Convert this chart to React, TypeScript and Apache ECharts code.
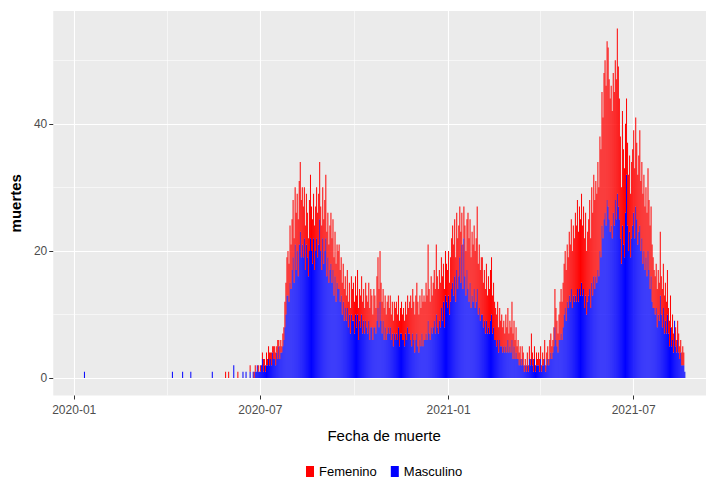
import React, { useEffect, useRef } from "react";
import * as echarts from "echarts";

// Sparse early days (before continuous reporting)
const sparseDates = ["2020-01-11", "2020-04-06", "2020-04-16", "2020-04-24", "2020-05-15", "2020-05-28", "2020-05-31", "2020-06-05", "2020-06-09", "2020-06-14", "2020-06-17", "2020-06-21"];
const sparseMasculino = [1, 1, 1, 1, 1, 0, 0, 2, 0, 1, 1, 1];
const sparseFemenino = [0, 0, 0, 0, 0, 1, 1, 0, 1, 0, 0, 1];

// Daily values from this date on (one week per row)
const startDate = "2020-06-24";
const masculino = [
  1, 0, 1, 1, 2, 1, 1,
  1, 2, 3, 1, 2, 1, 2,
  2, 3, 2, 3, 2, 4, 3,
  3, 2, 4, 3, 5, 3, 4,
  4, 5, 6, 8, 10, 13, 13,
  12, 15, 14, 17, 19, 15, 21,
  17, 20, 16, 21, 23, 19, 21,
  19, 22, 17, 21, 19, 16, 20,
  22, 20, 18, 22, 17, 20, 22,
  19, 21, 25, 20, 17, 22, 18,
  20, 22, 16, 19, 15, 17, 18,
  15, 17, 13, 16, 12, 15, 14,
  14, 12, 13, 10, 12, 9, 11,
  9, 11, 8, 10, 7, 10, 9,
  9, 7, 10, 8, 10, 6, 9,
  8, 10, 7, 9, 7, 9, 8,
  7, 9, 6, 8, 8, 6, 8,
  8, 7, 9, 11, 8, 12, 9,
  7, 9, 6, 8, 6, 7, 8,
  7, 8, 6, 7, 5, 7, 6,
  7, 6, 8, 5, 7, 7, 6,
  6, 5, 7, 6, 8, 7, 7,
  6, 5, 7, 6, 4, 6, 7,
  5, 4, 6, 5, 7, 5, 6,
  6, 7, 6, 9, 7, 6, 8,
  7, 8, 9, 7, 10, 8, 7,
  9, 8, 11, 9, 12, 8, 13,
  12, 11, 13, 10, 12, 14, 15,
  13, 16, 12, 17, 14, 16, 19,
  15, 21, 14, 22, 16, 13, 17,
  14, 12, 15, 11, 13, 12, 14,
  11, 12, 14, 10, 11, 9, 10,
  10, 8, 9, 7, 9, 7, 8,
  7, 9, 10, 7, 8, 6, 6,
  5, 6, 4, 6, 5, 5, 4,
  5, 4, 5, 4, 6, 4, 5,
  4, 6, 3, 5, 3, 4, 3,
  3, 2, 3, 2, 3, 2, 1,
  2, 1, 2, 1, 3, 2, 3,
  2, 1, 3, 1, 2, 2, 2,
  1, 3, 1, 2, 2, 3, 1,
  2, 3, 2, 3, 4, 3, 4,
  5, 8, 6, 5, 4, 6, 6,
  7, 6, 8, 10, 11, 9, 12,
  11, 13, 12, 14, 11, 13, 12,
  13, 12, 14, 12, 14, 13, 15,
  13, 14, 11, 13, 10, 12, 13,
  14, 11, 15, 13, 16, 14, 16,
  15, 17, 16, 20, 19, 24, 22,
  25, 26, 24, 28, 27, 25, 23,
  24, 22, 26, 24, 28, 25, 29,
  27, 25, 22, 18, 24, 21, 19,
  26, 32, 24, 20, 23, 19, 22,
  24, 26, 22, 27, 25, 21, 23,
  24, 20, 22, 18, 20, 17, 19,
  16, 20, 17, 14, 16, 12, 11,
  11, 10, 11, 8, 10, 9, 13,
  10, 8, 11, 7, 9, 7, 10,
  7, 5, 8, 5, 6, 4, 9,
  5, 4, 6, 4, 3, 4, 2,
  2, 2, 1,
];
const femenino = [
  0, 1, 1, 0, 0, 1, 0,
  1, 0, 1, 2, 1, 1, 2,
  1, 2, 2, 1, 2, 1, 2,
  2, 2, 1, 3, 1, 2, 2,
  1, 2, 2, 4, 5, 6, 7,
  6, 9, 7, 8, 9, 7, 9,
  9, 9, 9, 10, 11, 9, 9,
  8, 8, 7, 8, 7, 6, 8,
  10, 7, 7, 7, 7, 7, 8,
  7, 8, 9, 7, 7, 8, 7,
  8, 10, 7, 7, 6, 7, 8,
  7, 8, 6, 7, 6, 6, 6,
  7, 5, 6, 5, 6, 5, 5,
  4, 6, 4, 5, 4, 6, 5,
  6, 5, 6, 5, 7, 5, 5,
  5, 6, 5, 5, 4, 6, 5,
  5, 6, 5, 6, 5, 4, 6,
  5, 4, 7, 8, 6, 8, 6,
  5, 5, 5, 5, 4, 5, 5,
  4, 5, 4, 5, 4, 5, 5,
  5, 4, 5, 4, 4, 5, 4,
  5, 4, 5, 4, 5, 4, 5,
  7, 6, 7, 6, 6, 7, 8,
  7, 6, 7, 6, 7, 7, 7,
  6, 8, 7, 12, 7, 6, 8,
  6, 7, 8, 7, 11, 8, 7,
  8, 7, 8, 7, 6, 6, 7,
  6, 6, 7, 5, 7, 8, 9,
  8, 9, 7, 9, 8, 8, 8,
  8, 5, 7, 5, 8, 7, 8,
  12, 10, 10, 8, 10, 9, 10,
  9, 10, 13, 8, 10, 8, 9,
  9, 7, 8, 7, 9, 6, 8,
  7, 8, 9, 6, 7, 6, 5,
  5, 6, 4, 5, 4, 5, 4,
  4, 3, 5, 4, 5, 3, 4,
  4, 6, 4, 4, 3, 4, 2,
  3, 2, 2, 1, 2, 2, 1,
  1, 1, 2, 1, 2, 1, 4,
  2, 2, 2, 1, 2, 1, 2,
  2, 2, 1, 2, 1, 3, 1,
  2, 2, 1, 3, 3, 2, 2,
  3, 6, 5, 4, 3, 4, 6,
  7, 6, 7, 8, 9, 8, 9,
  8, 10, 9, 11, 9, 11, 10,
  13, 12, 14, 11, 13, 12, 14,
  11, 13, 11, 13, 10, 11, 12,
  14, 11, 15, 13, 16, 14, 15,
  14, 17, 14, 18, 17, 21, 19,
  23, 24, 22, 25, 25, 22, 21,
  22, 20, 22, 21, 22, 22, 26,
  22, 19, 16, 12, 18, 15, 14,
  14, 12, 13, 12, 12, 10, 12,
  12, 13, 11, 14, 12, 11, 12,
  15, 11, 12, 11, 12, 10, 11,
  10, 13, 11, 10, 11, 9, 8,
  6, 6, 7, 6, 7, 6, 10,
  6, 6, 7, 6, 6, 5, 7,
  4, 4, 5, 3, 4, 3, 0,
  3, 2, 3, 3, 2, 2, 2,
  3, 2, 0,
];

// Axis range (daily categories) and tick/grid dates
const axisStart = "2019-12-12";
const axisEnd = "2021-09-18";
const xTickDates = ["2020-01-01", "2020-07-01", "2021-01-01", "2021-07-01"];
const xMinorDates = ["2020-04-01", "2020-10-01", "2021-04-01"];
const yTicks = [0, 20, 40];
const yMinor = [10, 30, 50];

const DAY = 86400000;
const ts = (s: string) => {
  const [y, m, d] = s.split("-").map(Number);
  return Date.UTC(y, m - 1, d);
};
const iso = (ms: number) => new Date(ms).toISOString().slice(0, 10);

export default function App() {
  const ref = useRef<HTMLDivElement>(null);

  useEffect(() => {
    document.body.style.margin = "0";
    if (!ref.current) return;
    const chart = echarts.init(ref.current, undefined, { renderer: "svg" });

    const categories: string[] = [];
    for (let t = ts(axisStart); t <= ts(axisEnd); t += DAY) categories.push(iso(t));

    const start = ts(startDate);
    const xs: string[] = [...sparseDates, ...masculino.map((_, i) => iso(start + i * DAY))];
    const mVals = [...sparseMasculino, ...masculino];
    const fVals = [...sparseFemenino, ...femenino];

    const font = "'Liberation Sans', Arial, sans-serif";
    const tickSet = new Set(xTickDates);
    const isTick = (_i: number, v: string) => tickSet.has(v);

    const gridLines = [
      ...yTicks.map((v) => ({ yAxis: v, lineStyle: { color: "#FFFFFF", width: 1.1, type: "solid" } })),
      ...yMinor.map((v) => ({ yAxis: v, lineStyle: { color: "#FFFFFF", width: 0.55, type: "solid" } })),
      ...xTickDates.map((d) => ({ xAxis: d, lineStyle: { color: "#FFFFFF", width: 1.1, type: "solid" } })),
      ...xMinorDates.map((d) => ({ xAxis: d, lineStyle: { color: "#FFFFFF", width: 0.55, type: "solid" } })),
    ];

    chart.setOption({
      animation: false,
      textStyle: { fontFamily: font },
      grid: {
        left: 53,
        right: 0,
        top: 11,
        bottom: 89.5,
        show: true,
        backgroundColor: "#EBEBEB",
        borderWidth: 0,
      },
      legend: {
        data: ["Femenino", "Masculino"],
        left: 306,
        top: 465,
        padding: 0,
        icon: "rect",
        itemWidth: 8,
        itemHeight: 11,
        itemGap: 14,
        textStyle: { fontSize: 13, color: "#000000", fontFamily: font },
      },
      xAxis: {
        type: "category",
        data: categories,
        boundaryGap: true,
        name: "Fecha de muerte",
        nameLocation: "middle",
        nameGap: 32,
        nameTextStyle: { fontSize: 15, color: "#000000", fontFamily: font },
        axisLine: { show: false, onZero: false },
        splitLine: { show: false },
        axisTick: {
          show: true,
          length: 4,
          alignWithLabel: true,
          interval: isTick,
          lineStyle: { color: "#333333" },
        },
        axisLabel: {
          interval: isTick,
          formatter: (v: string) => v.slice(0, 7),
          fontSize: 12,
          color: "#4D4D4D",
          margin: 8,
          fontFamily: font,
        },
      },
      yAxis: {
        type: "value",
        min: -2.75,
        max: 57.75,
        name: "muertes",
        nameLocation: "middle",
        nameGap: 30,
        nameRotate: 90,
        nameTextStyle: { fontSize: 15, color: "#000000", fontWeight: "bold", fontFamily: font },
        axisLine: { show: false, onZero: false },
        splitLine: { show: false },
        axisTick: {
          show: true,
          length: 4,
          lineStyle: { color: "#333333" },
          customValues: yTicks,
        },
        axisLabel: {
          customValues: yTicks,
          fontSize: 12,
          color: "#4D4D4D",
          margin: 6,
          fontFamily: font,
        },
      },
      series: [
        {
          name: "grid",
          type: "line",
          data: [],
          z: 0,
          silent: true,
          markLine: {
            z: 0,
            silent: true,
            symbol: "none",
            label: { show: false },
            animation: false,
            data: gridLines,
          },
        },
        {
          name: "Masculino",
          type: "bar",
          stack: "total",
          barWidth: 1,
          z: 3,
          itemStyle: { color: "#0000FF" },
          data: xs.map((x, i) => [x, mVals[i]]),
        },
        {
          name: "Femenino",
          type: "bar",
          stack: "total",
          barWidth: 1,
          z: 3,
          itemStyle: { color: "#FF0000" },
          data: xs.map((x, i) => [x, fVals[i]]),
        },
      ],
    });

    return () => chart.dispose();
  }, []);

  return (
    <div style={{ width: 706, height: 485, overflow: "hidden" }}>
      <div ref={ref} style={{ width: 715, height: 485 }} />
    </div>
  );
}
